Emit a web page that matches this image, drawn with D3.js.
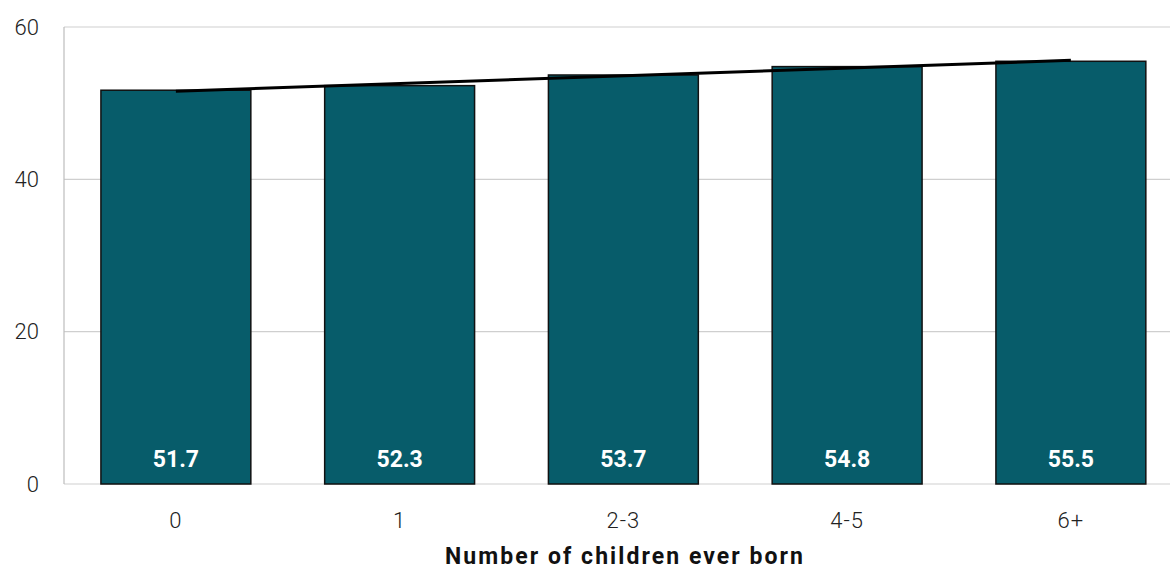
<!DOCTYPE html>
<html><head><meta charset="utf-8">
<script src="https://cdn.jsdelivr.net/npm/d3@7"></script>
<style>body{margin:0;background:#fff}svg{display:block}</style>
</head><body>
<svg id="c" width="1170" height="570"></svg>
<script>
const categories = ["0", "1", "2-3", "4-5", "6+"];
const values = [51.7, 52.3, 53.7, 54.8, 55.5];
const yTicks = [0, 20, 40, 60];
const xTitle = "Number of children ever born";

const svg = d3.select("#c");
const mLeft = 64, mTop = 27, mBottom = 484, mRight = 1170;
const x = d3.scaleBand().domain(categories).range([mLeft, mLeft + 5 * 223.75]).paddingInner(0.33).paddingOuter(0.165);
const y = d3.scaleLinear().domain([0, 60]).range([mBottom, mTop]);

// gridlines
svg.append("g").selectAll("line").data(yTicks).join("line")
  .attr("x1", mLeft).attr("x2", mRight)
  .attr("y1", d => y(d)).attr("y2", d => y(d))
  .attr("stroke", "#cfcfcf").attr("stroke-width", 1.2);
svg.append("line").attr("x1", mLeft).attr("x2", mLeft).attr("y1", mTop).attr("y2", mBottom)
  .attr("stroke", "#bdbdbd").attr("stroke-width", 1.2);

// y tick labels
svg.append("g").selectAll("text").data(yTicks).join("text")
  .attr("x", 39).attr("y", d => y(d)).attr("dy", "0.35em")
  .attr("text-anchor", "end").attr("font-family", "Roboto, sans-serif").attr("font-weight", 300)
  .attr("font-size", 22).attr("fill", "#222").text(d => d);

// bars
svg.append("g").selectAll("rect").data(values).join("rect")
  .attr("x", (d, i) => x(categories[i])).attr("width", x.bandwidth())
  .attr("y", d => y(d)).attr("height", d => mBottom - y(d))
  .attr("fill", "#075c6a").attr("stroke", "#111").attr("stroke-width", 1.5);

// value labels
svg.append("g").selectAll("text").data(values).join("text")
  .attr("x", (d, i) => x(categories[i]) + x.bandwidth() / 2).attr("y", 467)
  .attr("text-anchor", "middle").attr("font-family", "Roboto, sans-serif").attr("font-weight", 700)
  .attr("font-size", 23).attr("fill", "#fff").text(d => d.toFixed(1));

// linear trend line
const n = values.length, xs = values.map((d, i) => i);
const mx = d3.mean(xs), my = d3.mean(values);
const slope = d3.sum(xs.map((xi, i) => (xi - mx) * (values[i] - my))) / d3.sum(xs.map(xi => (xi - mx) ** 2));
const icpt = my - slope * mx;
svg.append("line")
  .attr("x1", x(categories[0]) + x.bandwidth() / 2).attr("y1", y(icpt))
  .attr("x2", x(categories[n - 1]) + x.bandwidth() / 2).attr("y2", y(icpt + slope * (n - 1)))
  .attr("stroke", "#000").attr("stroke-width", 3);

// x tick labels
svg.append("g").selectAll("text").data(categories).join("text")
  .attr("x", d => x(d) + x.bandwidth() / 2).attr("y", 520).attr("dy", "0.35em")
  .attr("text-anchor", "middle").attr("font-family", "Roboto, sans-serif").attr("font-weight", 300)
  .attr("font-size", 22).attr("letter-spacing", 1).attr("fill", "#222").text(d => d);

svg.append("text").attr("x", 624).attr("y", 564)
  .attr("text-anchor", "middle").attr("font-family", "Roboto, sans-serif").attr("font-weight", 700)
  .attr("font-size", 23).attr("textLength", 358).attr("lengthAdjust", "spacing")
  .attr("fill", "#111").text(xTitle);
</script>
</body></html>
